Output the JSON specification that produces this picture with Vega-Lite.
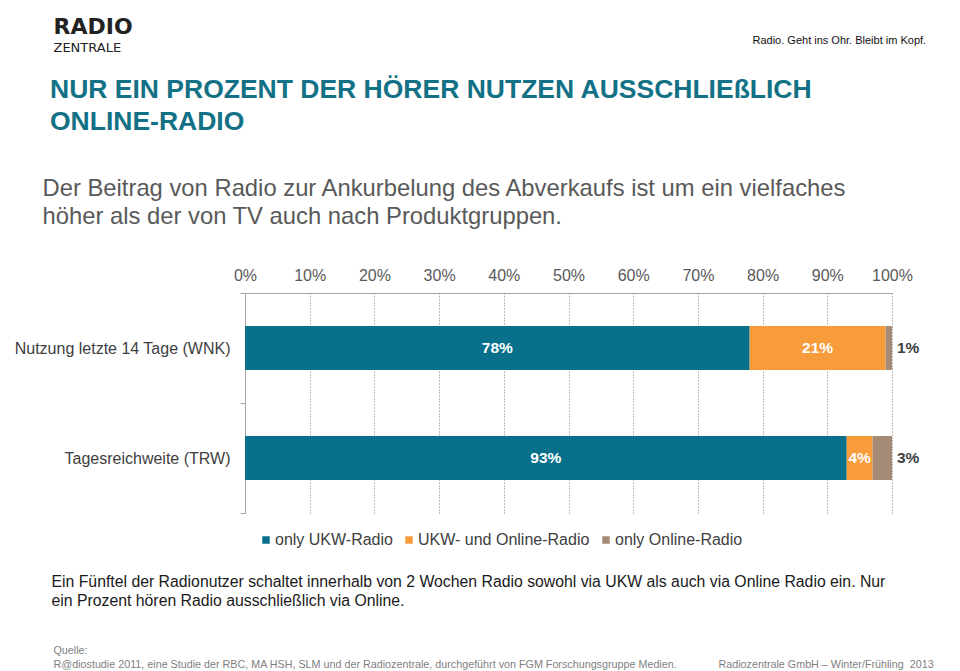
{
  "$schema": "https://vega.github.io/schema/vega-lite/v6.json",
  "width": 647,
  "height": 220,
  "autosize": {"type": "none"},
  "padding": {"left": 245, "top": 293, "right": 68, "bottom": 158},
  "background": "white",
  "config": {"font": "Liberation Sans", "view": {"stroke": null}},
  "title": {
    "text": ["NUR EIN PROZENT DER HÖRER NUTZEN AUSSCHLIEßLICH", "ONLINE-RADIO"],
    "anchor": "start",
    "frame": "group",
    "orient": "top",
    "font": "Liberation Sans",
    "fontSize": 26.5,
    "fontWeight": "bold",
    "color": "#137186",
    "lineHeight": 32,
    "dx": -195,
    "offset": -120
  },
  "data": {
    "values": [
      {"cat": "Nutzung letzte 14 Tage (WNK)", "type": "only UKW-Radio", "value": 78, "label": "78%", "order": 1},
      {"cat": "Nutzung letzte 14 Tage (WNK)", "type": "UKW- und Online-Radio", "value": 21, "label": "21%", "order": 2},
      {"cat": "Nutzung letzte 14 Tage (WNK)", "type": "only Online-Radio", "value": 1, "label": "1%", "order": 3},
      {"cat": "Tagesreichweite (TRW)", "type": "only UKW-Radio", "value": 93, "label": "93%", "order": 1},
      {"cat": "Tagesreichweite (TRW)", "type": "UKW- und Online-Radio", "value": 4, "label": "4%", "order": 2},
      {"cat": "Tagesreichweite (TRW)", "type": "only Online-Radio", "value": 3, "label": "3%", "order": 3}
    ]
  },
  "resolve": {"axis": {"x": "independent", "y": "independent"}},
  "layer": [
    {
      "mark": {"type": "bar", "height": {"band": 0.4}},
      "encoding": {
        "y": {
          "field": "cat", "type": "nominal",
          "scale": {"domain": ["Nutzung letzte 14 Tage (WNK)", "Tagesreichweite (TRW)"], "paddingInner": 0, "paddingOuter": 0},
          "axis": {
            "orient": "left",
            "labelFontSize": 16, "labelColor": "#404040", "labelFont": "Liberation Sans", "labelLimit": 400,
            "labelPadding": 10, "tickSize": 5, "tickColor": "#a6a6a6", "domainColor": "#a6a6a6",
            "tickBand": "extent", "grid": false,
            "title": "RADIO", "titleX": -192, "titleY": -260, "titleAngle": 0,
            "titleAlign": "left", "titleBaseline": "alphabetic",
            "titleFont": "DejaVu Sans", "titleFontSize": 22, "titleFontWeight": "bold", "titleColor": "#222222"
          }
        },
        "x": {
          "field": "value", "type": "quantitative", "stack": "zero",
          "scale": {"domain": [0, 100], "nice": false},
          "axis": {
            "orient": "top",
            "values": [0, 10, 20, 30, 40, 50, 60, 70, 80, 90, 100],
            "labelExpr": "datum.value + '%'",
            "labelFontSize": 16, "labelColor": "#595959", "labelFont": "Liberation Sans",
            "labelPadding": 10, "labelFlush": false, "labelOverlap": false,
            "ticks": false, "domainColor": "#a6a6a6",
            "grid": true, "gridColor": "#7f7f7f", "gridDash": [1, 2], "gridWidth": 1,
            "title": ["Der Beitrag von Radio zur Ankurbelung des Abverkaufs ist um ein vielfaches", "höher als der von TV auch nach Produktgruppen."],
            "titleX": -203, "titleY": -98, "titleAlign": "left", "titleBaseline": "alphabetic",
            "titleFont": "Liberation Sans", "titleFontSize": 23.8, "titleFontWeight": "normal",
            "titleColor": "#595959", "titleLineHeight": 28, "titleLimit": 1000
          }
        },
        "color": {
          "field": "type", "type": "nominal",
          "scale": {"domain": ["only UKW-Radio", "UKW- und Online-Radio", "only Online-Radio"], "range": ["#08708a", "#f89c3b", "#a58b76"]},
          "legend": {
            "orient": "none", "legendX": 13, "legendY": 239, "direction": "horizontal",
            "title": null, "symbolType": "square", "symbolSize": 56, "symbolStrokeWidth": 0,
            "labelFontSize": 16, "labelColor": "#404040", "labelFont": "Liberation Sans", "labelLimit": 400,
            "columnPadding": 8, "labelOffset": 1, "padding": 0
          }
        },
        "order": {"field": "order", "type": "quantitative"}
      }
    },
    {
      "transform": [{"filter": "datum.type !== 'only Online-Radio'"}],
      "mark": {"type": "text", "color": "white", "fontWeight": "bold", "fontSize": 15.5, "font": "Liberation Sans", "align": "center", "baseline": "middle"},
      "encoding": {
        "y": {
          "field": "cat", "type": "nominal",
          "axis": {
            "orient": "right", "labels": false, "ticks": false, "domain": false, "grid": false,
            "title": "Radio. Geht ins Ohr. Bleibt im Kopf.", "titleX": -140, "titleY": -250, "titleAngle": 0,
            "titleAlign": "left", "titleBaseline": "alphabetic",
            "titleFont": "Liberation Sans", "titleFontSize": 11, "titleFontWeight": "normal", "titleColor": "#111111"
          }
        },
        "x": {
          "field": "value", "type": "quantitative", "stack": "zero", "bandPosition": 0.5,
          "axis": {
            "orient": "bottom", "labels": false, "ticks": false, "domain": false, "grid": false,
            "title": ["Ein Fünftel der Radionutzer schaltet innerhalb von 2 Wochen Radio sowohl via UKW als auch via Online Radio ein. Nur", "ein Prozent hören Radio ausschließlich via Online."],
            "titleX": -194, "titleY": 73, "titleAlign": "left", "titleBaseline": "alphabetic",
            "titleFont": "Liberation Sans", "titleFontSize": 15.8, "titleFontWeight": "normal",
            "titleColor": "#1a1a1a", "titleLineHeight": 19, "titleLimit": 1000
          }
        },
        "detail": {"field": "type"},
        "order": {"field": "order", "type": "quantitative"},
        "text": {"field": "label"}
      }
    },
    {
      "transform": [
        {"stack": "value", "groupby": ["cat"], "sort": [{"field": "order"}], "as": ["v0", "v1"]},
        {"filter": "datum.type === 'only Online-Radio'"}
      ],
      "mark": {"type": "text", "color": "#404040", "fontWeight": "bold", "fontSize": 15.5, "font": "Liberation Sans", "align": "left", "baseline": "middle", "dx": 5},
      "encoding": {
        "y": {
          "field": "cat", "type": "nominal",
          "axis": {
            "orient": "left", "offset": 0, "labels": false, "ticks": false, "domain": false, "grid": false,
            "title": "ZENTRALE", "titleX": -192, "titleY": -242, "titleAngle": 0,
            "titleAlign": "left", "titleBaseline": "alphabetic",
            "titleFont": "DejaVu Sans", "titleFontSize": 13, "titleFontWeight": "normal", "titleColor": "#222222"
          }
        },
        "x": {
          "field": "v1", "type": "quantitative",
          "axis": {
            "orient": "bottom", "offset": 0, "labels": false, "ticks": false, "domain": false, "grid": false,
            "title": ["Quelle:", "R@diostudie 2011, eine Studie der RBC, MA HSH, SLM und der Radiozentrale, durchgeführt von FGM Forschungsgruppe Medien.\u00a0\u00a0\u00a0\u00a0\u00a0\u00a0\u00a0\u00a0\u00a0\u00a0\u00a0\u00a0\u00a0\u00a0Radiozentrale GmbH – Winter/Frühling\u00a0\u00a02013"],
            "titleX": -192, "titleY": 140, "titleAlign": "left", "titleBaseline": "alphabetic",
            "titleFont": "Liberation Sans", "titleFontSize": 10.75, "titleFontWeight": "normal",
            "titleColor": "#7f7f7f", "titleLineHeight": 14, "titleLimit": 1000
          }
        },
        "text": {"field": "label"}
      }
    }
  ]
}
